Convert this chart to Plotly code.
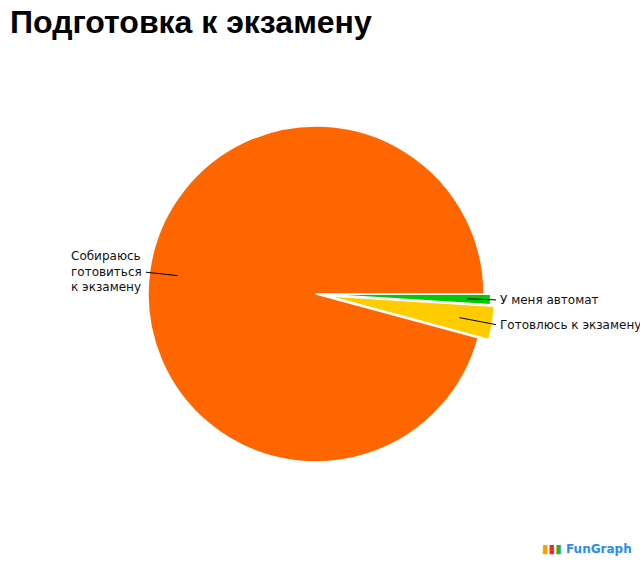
import math
import plotly.graph_objects as go

# ---- data ----
labels = ["У меня автомат", "Готовлюсь к экзамену", "Собираюсь<br>готовиться<br>к экзамену"]
values = [1.0, 3.2, 95.8]
colors = ["#00CC00", "#FFCC00", "#FF6600"]
pulls = [0.04, 0.065, 0.0]
title_text = "Подготовка к экзамену"

W, H = 640, 565
cx, cy, r = 316, 294, 168
half = r * (1 + max(pulls))

fig = go.Figure()
fig.add_trace(go.Pie(
    labels=labels, values=values, sort=False, direction="clockwise", rotation=90,
    marker=dict(colors=colors, line=dict(color="white", width=1.5)),
    pull=pulls, textinfo="none", hoverinfo="label+percent", showlegend=False,
    domain=dict(x=[(cx - half) / W, (cx + half) / W], y=[1 - (cy + half) / H, 1 - (cy - half) / H]),
))

# leader-line anchors computed from slice mid-angles
total = sum(values)
start = 0.0
mids = []
for v in values:
    span = v / total * 360
    mids.append(-(start + span / 2))
    start += span

label_pos = [  # text position (pixel), xanchor, radial fraction of the tip
    (498, 300, "left", 0.86),
    (498, 325, "left", 0.80),
    (144, 272, "right", 0.83),
]
for i, (lab, (tx, ty, xa, frac)) in enumerate(zip(labels, label_pos)):
    a = math.radians(mids[i])
    off = pulls[i] * r
    px = cx + (off + frac * r) * math.cos(a)
    py = cy - (off + frac * r) * math.sin(a)
    fig.add_annotation(
        x=px / W, y=1 - py / H, xref="paper", yref="paper",
        ax=tx - px, ay=ty - py, axref="pixel", ayref="pixel",
        text=lab, showarrow=True, arrowhead=0, arrowwidth=1, arrowcolor="black",
        xanchor=xa, yanchor="middle", align="left",
        font=dict(family="DejaVu Sans", size=12, color="#111"),
        standoff=0, startstandoff=2,
    )

fig.add_annotation(
    x=8 / W, y=1 - 22 / H, xref="paper", yref="paper", xanchor="left", yanchor="middle",
    text="<b>" + title_text + "</b>", showarrow=False,
    font=dict(family="Liberation Sans", size=32, color="black"),
)
fig.add_annotation(
    x=634 / W, y=1 - 549 / H, xref="paper", yref="paper", xanchor="right", yanchor="middle",
    text="<b><span style='color:#f5a000'>▮</span><span style='color:#e03030'>▮</span>"
         "<span style='color:#30b030'>▮</span> FunGraph</b>", showarrow=False,
    font=dict(family="DejaVu Sans", size=12, color="#2a8ee6"),
)

fig.update_layout(
    width=W, height=H, margin=dict(l=0, r=0, t=0, b=0),
    paper_bgcolor="white", plot_bgcolor="white",
)
fig.write_html("out.html", config={"displayModeBar": False},
               post_script="document.body.style.margin='0';")
